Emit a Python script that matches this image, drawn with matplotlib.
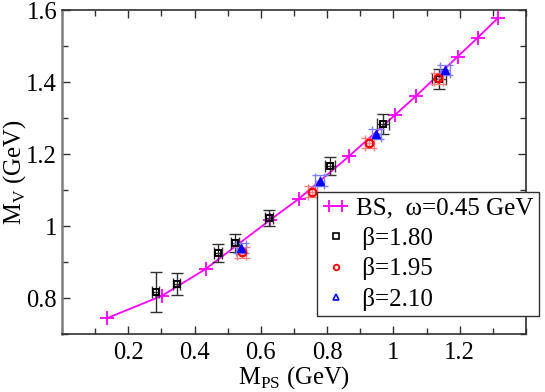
import matplotlib
matplotlib.use('Agg')
import matplotlib.pyplot as plt
from matplotlib.lines import Line2D
from matplotlib.legend_handler import HandlerLine2D
from matplotlib.ticker import MultipleLocator

plt.rcParams['font.family'] = ['Liberation Serif', 'DejaVu Serif']
plt.rcParams['mathtext.fontset'] = 'custom'
plt.rcParams['mathtext.rm'] = 'Liberation Serif'

# BS model curve, omega = 0.45 GeV
bs_x = [0.136, 0.301, 0.434, 0.628, 0.715, 0.866, 1.004, 1.069, 1.194, 1.255, 1.315]
bs_y = [0.744, 0.806, 0.881, 1.017, 1.076, 1.194, 1.308, 1.362, 1.471, 1.524, 1.578]

# lattice, beta = 1.80
b180_x = [0.283, 0.346, 0.471, 0.522, 0.624, 0.810, 0.968, 1.138]
b180_y = [0.817, 0.839, 0.925, 0.954, 1.023, 1.166, 1.284, 1.409]
b180_xerr = [0.010, 0.010, 0.011, 0.011, 0.012, 0.015, 0.018, 0.020]
b180_yerr = [0.056, 0.030, 0.025, 0.025, 0.022, 0.025, 0.027, 0.028]

# lattice, beta = 1.95
b195_x = [0.542, 0.755, 0.927, 1.136]
b195_y = [0.927, 1.096, 1.231, 1.411]
b195_xerr = [0.014, 0.014, 0.014, 0.014]
b195_yerr = [0.015, 0.015, 0.015, 0.015]

# lattice, beta = 2.10
b210_x = [0.540, 0.778, 0.949, 1.156]
b210_y = [0.939, 1.126, 1.256, 1.434]
b210_xerr = [0.014, 0.014, 0.014, 0.014]
b210_yerr = [0.015, 0.015, 0.015, 0.015]

fs = 17.7

fig = plt.figure(figsize=(5.45, 3.92), dpi=100)
ax = fig.add_axes([0.1138, 0.148, 0.8512, 0.826])

ax.plot(bs_x, bs_y, color='#ff00ff', lw=1.3, marker='+', ms=10, mew=1.3, zorder=2)

ax.errorbar(b180_x, b180_y, xerr=b180_xerr, yerr=b180_yerr, fmt='none',
            ecolor='#303030', elinewidth=1.0, capsize=4.5, capthick=1.0, zorder=3)
ax.plot(b180_x, b180_y, ls='none', marker='s', ms=5, mfc='none', mec='black', mew=1.4, zorder=4)

ax.errorbar(b195_x, b195_y, xerr=b195_xerr, yerr=b195_yerr, fmt='none',
            ecolor='#ff8080', elinewidth=1.0, capsize=5.5, capthick=1.0, zorder=3)
ax.plot(b195_x, b195_y, ls='none', marker='o', ms=5.5, mfc='none', mec='red', mew=1.6, zorder=4)

ax.errorbar(b210_x, b210_y, xerr=b210_xerr, yerr=b210_yerr, fmt='none',
            ecolor='#8080ff', elinewidth=1.0, capsize=5.5, capthick=1.0, zorder=3)
ax.plot(b210_x, b210_y, ls='none', marker='^', ms=6, mfc='blue', mec='blue', mew=1.0, zorder=4)

ax.set_xlim(0, 1.4)
ax.set_ylim(0.7, 1.6)
ax.set_xticks([0.2, 0.4, 0.6, 0.8, 1.0, 1.2])
ax.set_xticklabels(['0.2', '0.4', '0.6', '0.8', '1', '1.2'])
ax.set_yticks([0.8, 1.0, 1.2, 1.4, 1.6])
ax.set_yticklabels(['0.8', '1', '1.2', '1.4', '1.6'])
ax.xaxis.set_minor_locator(MultipleLocator(0.1))
ax.yaxis.set_minor_locator(MultipleLocator(0.1))
ax.tick_params(which='both', direction='in', top=True, right=True, labelsize=fs, width=1.0, color='#303030')
ax.tick_params(which='major', length=6)
ax.tick_params(which='minor', length=4)
ax.tick_params(axis='x', pad=6)
for s in ax.spines.values():
    s.set_linewidth(1.2)
    s.set_color('#303030')
ax.spines['left'].set_color('#808080')
ax.spines['left'].set_linewidth(1.8)

ax.set_xlabel(r'M$_{\rm PS}$ (GeV)', fontsize=fs, labelpad=0)
ax.set_ylabel(r'M$_{\rm V}$ (GeV)', fontsize=fs, labelpad=-1)

h_bs = Line2D([], [], color='#ff00ff', lw=1.3, marker='+', ms=9, mew=1.3)
h1 = Line2D([], [], ls='none', marker='s', ms=4, mfc='none', mec='black', mew=1.2)
h2 = Line2D([], [], ls='none', marker='o', ms=4, mfc='none', mec='red', mew=1.3)
h3 = Line2D([], [], ls='none', marker='^', ms=4, mfc='none', mec='blue', mew=1.2)
leg = fig.legend([h_bs, h1, h2, h3],
                 ['BS,  \u03c9=0.45 GeV', ' \u03b2=1.80', ' \u03b2=1.95', ' \u03b2=2.10'],
                 handler_map={h_bs: HandlerLine2D(numpoints=2), h1: HandlerLine2D(numpoints=1),
                              h2: HandlerLine2D(numpoints=1), h3: HandlerLine2D(numpoints=1)},
                 loc='lower left', bbox_to_anchor=(0.581, 0.194), borderaxespad=0,
                 fontsize=18, fancybox=False, framealpha=1, edgecolor='#303030',
                 handlelength=1.13, handletextpad=0.25, labelspacing=0.3, borderpad=0.2)
leg.get_frame().set_linewidth(1.0)

fig.savefig('out.png', dpi=100)
